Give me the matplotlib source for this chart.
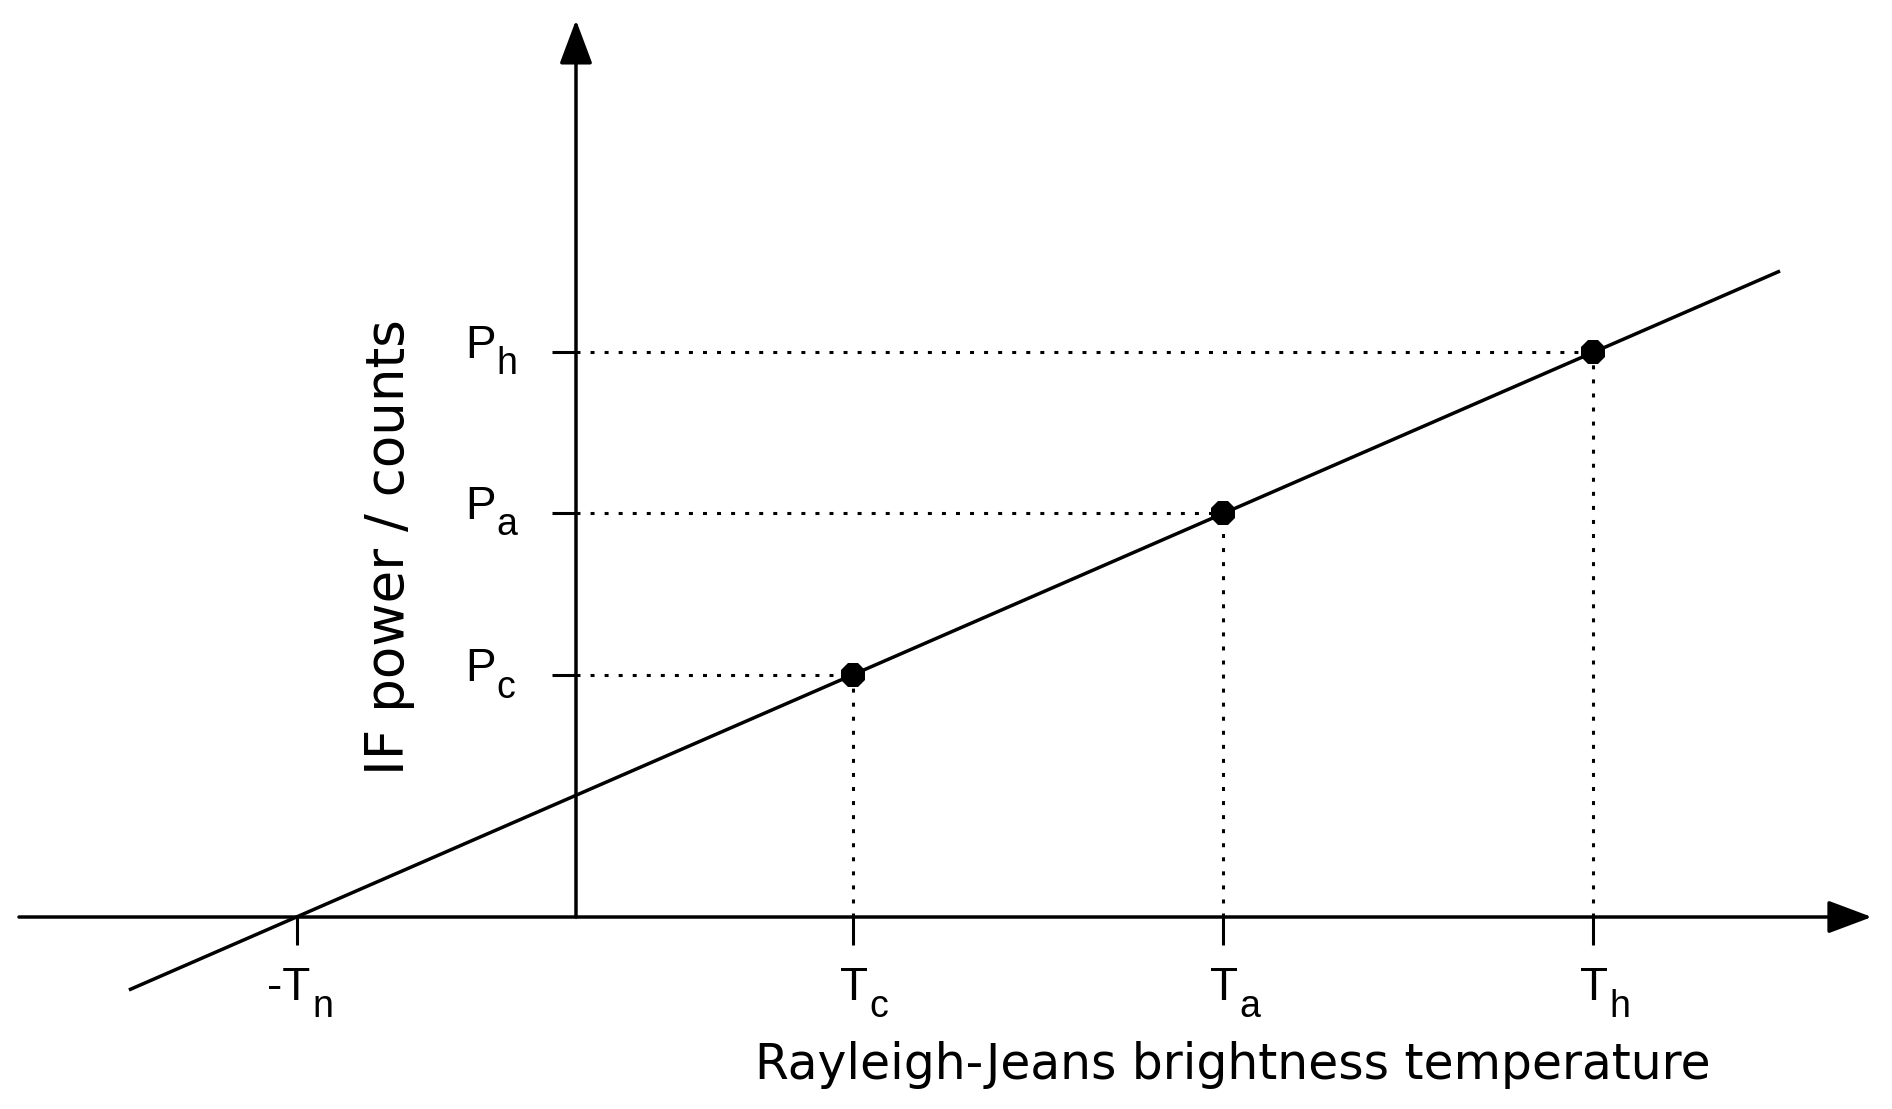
import matplotlib
matplotlib.use('Agg')
import matplotlib.pyplot as plt

plt.rcParams['font.family'] = ['Liberation Sans', 'DejaVu Sans']

# calibration points (arbitrary units, same scale on both axes)
t_noise = 80.0
t_vals = [79.4, 185.4, 291.4]          # T_c, T_a, T_h
p_vals = [69.3, 115.8, 161.9]          # P_c, P_a, P_h
t_subs = ['c', 'a', 'h']
p_subs = ['c', 'a', 'h']

# straight calibration line, end points
line_t = [-128.1, 345.0]
line_p = [-20.9, 185.1]

# axis extents
x_axis = [-159.6, 371.3]
y_axis = [0.0, 257.0]

xlim = (-165.04, 377.08)
ylim = (-55.01, 262.75)

xlabel = 'Rayleigh-Jeans brightness temperature'
ylabel = 'IF power / counts'

fs_main = 33
fs_sub = 27
lw = 2.5

fig = plt.figure(figsize=(18.92, 11.09), dpi=100)
ax = fig.add_axes([0, 0, 1, 1])
ax.set_xlim(*xlim)
ax.set_ylim(*ylim)
for s in ax.spines.values():
    s.set_visible(False)
ax.spines['left'].set_position(('data', 0))
ax.spines['bottom'].set_position(('data', 0))

# axes with arrow heads
arrow = dict(arrowstyle='-|>,head_length=0.8,head_width=0.3', mutation_scale=34,
             lw=lw, color='k', shrinkA=0, shrinkB=0)
ax.annotate('', xy=(x_axis[1], 0), xytext=(x_axis[0], 0), arrowprops=arrow)
ax.annotate('', xy=(0, y_axis[1]), xytext=(0, y_axis[0]), arrowprops=arrow)

# ticks
ax.set_xticks([-t_noise] + t_vals)
ax.set_yticks(p_vals)
ax.tick_params(axis='x', direction='out', length=20, width=2.2, color='k',
               labelbottom=False)
ax.tick_params(axis='y', direction='out', length=17, width=2.2, color='k',
               labelleft=False)

# calibration line and points
ax.plot(line_t, line_p, color='k', lw=lw, solid_capstyle='butt')
for t, p in zip(t_vals, p_vals):
    ax.plot([0, t], [p, p], color='k', lw=2.2, ls=(0, (1.3, 3.3)))
    ax.plot([t, t], [0, p], color='k', lw=2.2, ls=(0, (1.3, 3.3)))
ax.plot(t_vals, p_vals, ls='none', marker='8', ms=18, mew=0, color='k', zorder=5)


def sub_label(x, y, main, sub, dx, dy):
    m = ax.annotate(main, xy=(x, y), xytext=(dx, dy), textcoords='offset points',
                    ha='right', va='baseline', fontsize=fs_main)
    ax.annotate(sub, xy=(1, 0), xycoords=m, xytext=(1, -4.5),
                textcoords='offset points', ha='left', va='baseline',
                fontsize=fs_sub)


sub_label(-t_noise, 0, '-T', 'n', 10, -60)
for t, s in zip(t_vals, t_subs):
    sub_label(t, 0, 'T', s, 11, -60)
for p, s in zip(p_vals, p_subs):
    sub_label(0, p, 'P', s, -58, -4.5)

# axis titles, loosely spaced in the original, so use the wider DejaVu face
yl = fig.text(389 / 1892, 1 - 547 / 1109, ylabel, rotation=90,
              ha='center', va='center', fontsize=32, family='DejaVu Sans')
xl = fig.text(1233 / 1892, 30 / 1109, xlabel,
              ha='center', va='baseline', fontsize=32, family='DejaVu Sans')

# fit the title lengths to the original
fig.canvas.draw()
r = fig.canvas.get_renderer()
xl.set_fontsize(32 * 957 / xl.get_window_extent(r).width)
yl.set_fontsize(32 * 456 / yl.get_window_extent(r).height)

fig.savefig('out.png', dpi=100)
